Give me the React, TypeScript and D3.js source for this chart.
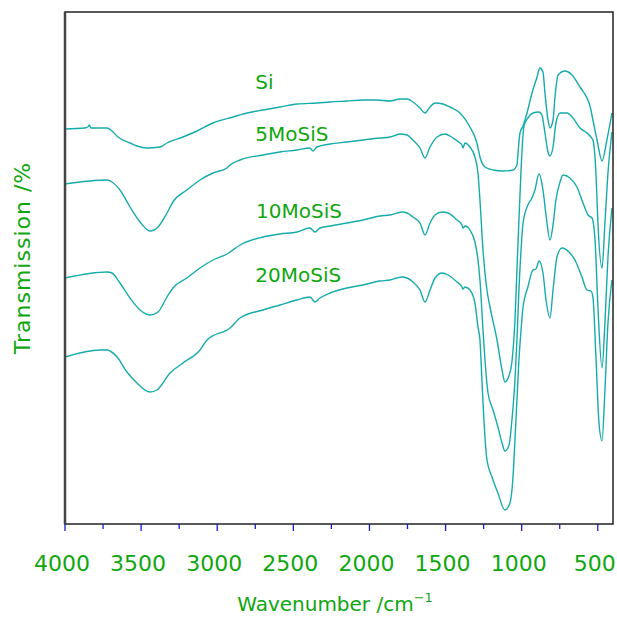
import React from 'react';
import * as d3 from 'd3';

// wavenumber (cm-1), transmission (arbitrary offset units)
const si: [number, number][] = [
  [4000, 395], [3870, 396], [3850, 397], [3840, 399], [3830, 396], [3770, 396], [3724, 396],
  [3691, 393], [3652, 387], [3573, 381], [3527, 378], [3461, 376], [3376, 377], [3330, 381],
  [3225, 387], [3133, 393], [3028, 401], [2896, 407], [2804, 411], [2699, 414], [2588, 417],
  [2476, 420], [2345, 421], [2259, 422], [2148, 423], [2042, 424], [1950, 424], [1865, 423],
  [1799, 425], [1753, 425], [1714, 422], [1668, 416], [1635, 411], [1602, 417], [1569, 421],
  [1517, 420], [1471, 417], [1405, 411], [1340, 397], [1294, 381], [1274, 367], [1241, 357],
  [1188, 354], [1123, 353], [1057, 354], [1031, 359], [1024, 371], [1011, 391], [991, 398],
  [965, 411], [932, 431], [899, 447], [880, 456], [860, 452], [847, 431], [827, 404],
  [814, 396], [794, 404], [781, 427], [761, 449], [716, 453], [669, 449], [617, 437],
  [571, 426], [551, 418], [532, 404], [505, 384], [472, 363], [440, 384], [407, 411],
];

const mo5: [number, number][] = [
  [4000, 340], [3724, 344], [3691, 342], [3639, 334], [3573, 317], [3507, 302], [3442, 293],
  [3389, 297], [3330, 311], [3291, 322], [3199, 334], [3113, 344], [3028, 351], [2936, 356],
  [2923, 358], [2850, 364], [2699, 369], [2588, 372], [2476, 374], [2391, 376], [2371, 373],
  [2345, 377], [2259, 380], [2148, 382], [2042, 384], [1931, 386], [1865, 387], [1799, 390],
  [1753, 389], [1714, 384], [1668, 376], [1635, 366], [1602, 377], [1556, 387], [1504, 390],
  [1451, 386], [1405, 381], [1392, 379], [1386, 376], [1372, 381], [1340, 377], [1307, 367],
  [1287, 351], [1274, 324], [1254, 274], [1228, 234], [1208, 217], [1162, 184], [1129, 154],
  [1110, 142], [1084, 148], [1064, 162], [1044, 204], [1031, 254], [1018, 304], [1004, 354],
  [991, 389], [985, 398], [959, 406], [926, 411], [886, 412], [867, 409], [847, 391],
  [827, 372], [814, 368], [794, 377], [775, 401], [748, 411], [702, 411], [663, 406],
  [617, 396], [571, 391], [545, 387], [532, 384], [512, 351], [499, 301], [472, 256],
  [453, 301], [433, 351], [407, 392],
];

const mo10: [number, number][] = [
  [4000, 246], [3724, 252], [3691, 251], [3639, 241], [3573, 226], [3507, 214], [3442, 209],
  [3389, 212], [3330, 227], [3291, 236], [3199, 246], [3113, 256], [3028, 264], [2936, 270],
  [2916, 272], [2850, 279], [2699, 287], [2588, 290], [2476, 292], [2391, 296], [2358, 292],
  [2325, 296], [2259, 298], [2148, 301], [2042, 304], [1931, 308], [1865, 309], [1786, 312],
  [1753, 311], [1714, 307], [1668, 301], [1635, 289], [1602, 301], [1569, 309], [1523, 312],
  [1484, 311], [1425, 304], [1392, 299], [1386, 296], [1372, 298], [1340, 294], [1307, 282],
  [1287, 264], [1274, 244], [1254, 194], [1241, 164], [1221, 131], [1188, 114], [1156, 97],
  [1129, 81], [1110, 73], [1090, 76], [1077, 84], [1064, 104], [1044, 144], [1031, 184],
  [1018, 234], [1004, 274], [991, 301], [959, 319], [932, 326], [913, 334], [886, 350],
  [860, 334], [840, 309], [814, 284], [794, 299], [775, 324], [748, 342], [728, 349],
  [683, 346], [637, 337], [597, 321], [564, 309], [538, 306], [518, 284], [499, 217],
  [472, 156], [453, 201], [433, 267], [407, 316],
];

const mo20: [number, number][] = [
  [4000, 167], [3770, 174], [3724, 174], [3704, 173], [3658, 167], [3593, 152], [3527, 141],
  [3442, 132], [3396, 134], [3310, 151], [3225, 161], [3113, 174], [3067, 184], [2916, 196],
  [2850, 206], [2699, 214], [2588, 219], [2476, 224], [2391, 227], [2358, 222], [2325, 226],
  [2259, 231], [2148, 236], [2042, 239], [1931, 243], [1865, 244], [1819, 246], [1786, 247],
  [1753, 246], [1714, 242], [1668, 234], [1635, 222], [1602, 234], [1569, 246], [1523, 251],
  [1484, 249], [1425, 242], [1392, 237], [1386, 235], [1372, 237], [1340, 234], [1307, 221],
  [1287, 197], [1274, 184], [1261, 144], [1248, 104], [1228, 64], [1195, 47], [1156, 31],
  [1110, 14], [1077, 21], [1057, 47], [1044, 84], [1031, 124], [1018, 164], [1004, 194],
  [991, 217], [959, 237], [926, 254], [906, 255], [886, 263], [860, 251], [840, 224],
  [814, 206], [794, 234], [768, 267], [735, 276], [683, 271], [650, 264], [604, 247],
  [571, 234], [545, 233], [532, 227], [512, 167], [492, 101], [472, 83], [453, 134],
  [433, 201], [407, 244],
];

const series = [si, mo5, mo10, mo20];
const labels = ['Si', '5MoSiS', '10MoSiS', '20MoSiS'];
const labelPos: [number, number][] = [[2750, 435], [2750, 383], [2745, 306], [2750, 242]];
const xTicks = [4000, 3500, 3000, 2500, 2000, 1500, 1000, 500];
const xMinor = [3750, 3250, 2750, 2250, 1750, 1250, 750];

const W = 617;
const H = 618;
const margin = { top: 12, right: 4, bottom: 94, left: 65 };
const lineColor = '#16abab';
const textColor = '#0fa60f';
const tickColor = '#1a1acc';
const font = '"DejaVu Sans", sans-serif';

export default function App() {
  const x = d3.scaleLinear().domain([4000, 400]).range([margin.left, W - margin.right]);
  const y = d3.scaleLinear().domain([0, 512]).range([H - margin.bottom, margin.top]);
  const line = d3.line<[number, number]>()
    .x(d => x(d[0]))
    .y(d => y(d[1]))
    .curve(d3.curveMonotoneX);
  const bottom = H - margin.bottom;

  return (
    <svg width={W} height={H} style={{ position: 'absolute', left: 0, top: 0 }}>
      <rect width={W} height={H} fill="white" />
      {series.map((s, i) => (
        <path key={i} d={line(s) || ''} fill="none" stroke={lineColor} strokeWidth={1.4} />
      ))}
      <rect x={margin.left} y={margin.top} width={W - margin.left - margin.right}
        height={bottom - margin.top} fill="none" stroke="#222" strokeWidth={1.5} />
      <line x1={margin.left} x2={margin.left} y1={margin.top} y2={bottom} stroke="#444" strokeWidth={2.5} />
      {xTicks.map(t => (
        <line key={t} x1={x(t)} x2={x(t)} y1={bottom} y2={bottom + 7} stroke={tickColor} strokeWidth={1.3} />
      ))}
      {xMinor.map(t => (
        <line key={t} x1={x(t)} x2={x(t)} y1={bottom} y2={bottom + 5} stroke={tickColor} strokeWidth={1.3} />
      ))}
      {xTicks.map(t => (
        <text key={t} x={x(t) - 3} y={bottom + 47} textAnchor="middle" fill={textColor}
          fontFamily={font} fontSize={22}>{t}</text>
      ))}
      <text x={335} y={611} textAnchor="middle" fill={textColor} fontFamily={font} fontSize={20}>
        Wavenumber /cm<tspan dy={-9} fontSize={13}>−1</tspan>
      </text>
      <text transform={`translate(30,${258}) rotate(-90)`} textAnchor="middle" fill={textColor}
        fontFamily={font} fontSize={22} letterSpacing={1}>Transmission /%</text>
      {labels.map((l, i) => (
        <text key={l} x={x(labelPos[i][0])} y={y(labelPos[i][1])} fill={textColor}
          fontFamily={font} fontSize={20}>{l}</text>
      ))}
    </svg>
  );
}
